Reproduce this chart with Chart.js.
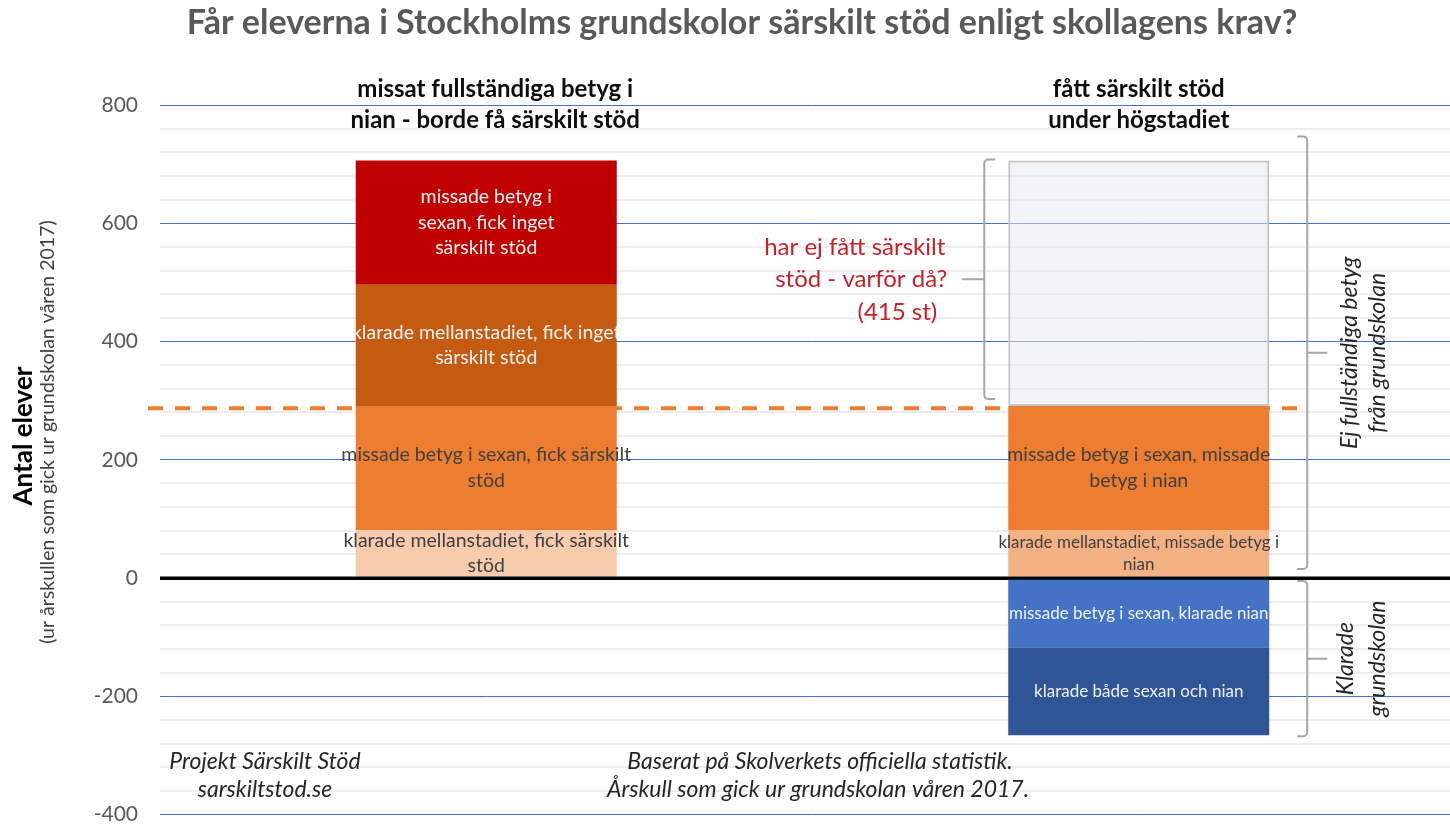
<!DOCTYPE html>
<html lang="sv">
<head>
<meta charset="utf-8">
<title>Särskilt stöd i Stockholms grundskolor</title>
<script src="https://cdn.jsdelivr.net/npm/chart.js@4.4.0/dist/chart.umd.min.js"></script>
<style>
    html, body { margin: 0; padding: 0; background: #ffffff; overflow: hidden; }
    #wrap { position: relative; width: 1465px; height: 825px; }
</style>
</head>
<body>
<div id="wrap"><canvas id="stodChart" width="1465" height="825"></canvas></div>
<script>
// Data
const categories = [
    ['missat fullständiga betyg i', 'nian - borde få särskilt stöd'],
    ['fått särskilt stöd', 'under högstadiet']
];
const yTicksMajor = [-400, -200, 0, 200, 400, 600, 800];

const klaradeMellanstadiet = [81, 81];
const missadeSexan = [210, 210];
const klaradeMellanIngetStod = [205, null];
const missadeSexanIngetStod = [210, null];
const ejFattStod = [null, 415];
const missadeSexanKlaradeNian = [null, -117];
const klaradeBada = [null, -149];
const gapLevel = 287;   // dashed reference line

const klaradeMellanstadietText = ['klarade mellanstadiet, fick särskilt\nstöd', 'klarade mellanstadiet, missade betyg i\nnian'];
const missadeSexanText = ['missade betyg i sexan, fick särskilt\nstöd', 'missade betyg i sexan, missade\nbetyg i nian'];
const klaradeMellanIngetStodText = ['klarade mellanstadiet, fick inget\nsärskilt stöd', null];
const missadeSexanIngetStodText = ['missade betyg i\nsexan, fick inget\nsärskilt stöd', null];
const missadeSexanKlaradeNianText = [null, 'missade betyg i sexan, klarade nian'];
const klaradeBadaText = [null, 'klarade både sexan och nian'];

const FONT = 'Lato, "Open Sans", sans-serif';

const datasets = [
    {
        label: 'klarade mellanstadiet',
        data: klaradeMellanstadiet,
        backgroundColor: ['#F8CBAD', '#F4B183'],
        texts: klaradeMellanstadietText,
        textColor: ['#404040', '#404040'],
        fontSize: [19.5, 17],
        lineHeight: [25, 22]
    },
    {
        label: 'missade betyg i sexan',
        data: missadeSexan,
        backgroundColor: '#ED7D31',
        texts: missadeSexanText,
        textColor: ['#404040', '#404040'],
        fontSize: [19.5, 19.5],
        lineHeight: [26, 26]
    },
    {
        label: 'klarade mellanstadiet, fick inget särskilt stöd',
        data: klaradeMellanIngetStod,
        backgroundColor: '#C55A11',
        texts: klaradeMellanIngetStodText,
        textColor: ['#F2F2F2', '#F2F2F2'],
        fontSize: [19.5, 19.5],
        lineHeight: [25, 25]
    },
    {
        label: 'missade betyg i sexan, fick inget särskilt stöd',
        data: missadeSexanIngetStod,
        backgroundColor: '#C00000',
        texts: missadeSexanIngetStodText,
        textColor: ['#F2F2F2', '#F2F2F2'],
        fontSize: [19.5, 19.5],
        lineHeight: [25.5, 25.5]
    },
    {
        label: 'har ej fått särskilt stöd',
        data: ejFattStod,
        backgroundColor: 'rgba(232, 233, 238, 0.5)',
        borderColor: '#C4C4C4',
        borderWidth: 2,
        borderSkipped: false,
        texts: [null, null],
        textColor: ['#404040', '#404040'],
        fontSize: [16, 16],
        lineHeight: [25, 25]
    },
    {
        label: 'missade betyg i sexan, klarade nian',
        data: missadeSexanKlaradeNian,
        backgroundColor: '#4472C4',
        texts: missadeSexanKlaradeNianText,
        textColor: ['#EEF2FA', '#EEF2FA'],
        fontSize: [17, 17],
        lineHeight: [22, 22]
    },
    {
        label: 'klarade både sexan och nian',
        data: klaradeBada,
        backgroundColor: '#2F5597',
        texts: klaradeBadaText,
        textColor: ['#EEF2FA', '#EEF2FA'],
        fontSize: [17, 17],
        lineHeight: [22, 22]
    }
];

/**
 * Text inside each bar segment
 */
const segmentTextPlugin = {
    id: 'segmentText',
    afterDatasetsDraw(chart) {
        const ctx = chart.ctx;
        const yScale = chart.scales.y;

        // zero line sits on top of the bars
        ctx.save();
        ctx.strokeStyle = '#000000';
        ctx.lineWidth = 3;
        ctx.beginPath();
        const y0 = yScale.getPixelForValue(0);
        ctx.moveTo(chart.chartArea.left, y0);
        ctx.lineTo(chart.chartArea.right, y0);
        ctx.stroke();
        ctx.restore();

        chart.data.datasets.forEach((ds, di) => {
            const meta = chart.getDatasetMeta(di);
            meta.data.forEach((bar, i) => {
                const text = ds.texts[i];
                if (!text || ds.data[i] == null) return;
                const lines = text.split('\n');
                const lh = ds.lineHeight[i];
                const cy = (bar.y + bar.base) / 2;
                ctx.save();
                ctx.font = ds.fontSize[i] + 'px ' + FONT;
                ctx.fillStyle = ds.textColor[i];
                ctx.textAlign = 'center';
                ctx.textBaseline = 'middle';
                lines.forEach((ln, k) => {
                    ctx.fillText(ln, bar.x, cy + (k - (lines.length - 1) / 2) * lh);
                });
                ctx.restore();
            });
        });
    }
};

/**
 * Draw a square bracket with a small tip in the middle
 */
function drawBrace(ctx, x, top, bottom, hookDx, tipDx) {
    const mid = (top + bottom) / 2;
    const r = 4;
    ctx.save();
    ctx.strokeStyle = '#A6A6A6';
    ctx.lineWidth = 2;
    ctx.beginPath();
    ctx.moveTo(x + hookDx, top);
    ctx.arcTo(x, top, x, top + r, r);
    ctx.lineTo(x, bottom - r);
    ctx.arcTo(x, bottom, x + hookDx, bottom, r);
    ctx.lineTo(x + hookDx, bottom);
    ctx.moveTo(x, mid);
    ctx.lineTo(x + tipDx, mid);
    ctx.stroke();
    ctx.restore();
    return mid;
}

function rotatedLines(ctx, lines, xs, cy, font, color) {
    lines.forEach((ln, k) => {
        ctx.save();
        ctx.translate(xs[k], cy);
        ctx.rotate(-Math.PI / 2);
        ctx.font = font;
        ctx.fillStyle = color;
        ctx.textAlign = 'center';
        ctx.textBaseline = 'middle';
        ctx.fillText(ln, 0, 0);
        ctx.restore();
    });
}

/**
 * Dashed reference line, drawn behind the bars
 */
const gapLinePlugin = {
    id: 'gapLine',
    beforeDatasetsDraw(chart) {
        const ctx = chart.ctx;
        const y = chart.scales.y.getPixelForValue(gapLevel);
        const bar2 = chart.getDatasetMeta(1).data[1];
        const xEnd = bar2.x + bar2.width / 2 + 36;
        ctx.save();
        ctx.strokeStyle = '#ED7D31';
        ctx.lineWidth = 4;
        ctx.setLineDash([15, 12]);
        ctx.beginPath();
        ctx.moveTo(chart.chartArea.left - 12, y);
        ctx.lineTo(xEnd, y);
        ctx.stroke();
        ctx.restore();
    }
};

/**
 * Titles, headers, brackets and notes
 */
const annotationPlugin = {
    id: 'annotations',
    afterDraw(chart) {
        const ctx = chart.ctx;
        const yScale = chart.scales.y;
        const xScale = chart.scales.x;

        // main title
        ctx.save();
        ctx.font = 'bold 34px ' + FONT;
        ctx.fillStyle = '#595959';
        ctx.textAlign = 'center';
        ctx.textBaseline = 'middle';
        ctx.fillText('Får eleverna i Stockholms grundskolor särskilt stöd enligt skollagens krav?', 742, 23);

        // category headers
        ctx.font = 'bold 24px ' + FONT;
        ctx.fillStyle = '#0D0D0D';
        categories.forEach((lines, i) => {
            const x = xScale.getPixelForValue(i) + (i === 0 ? 9 : 0);
            lines.forEach((ln, k) => ctx.fillText(ln, x, 89 + k * 31));
        });

        // footer notes
        ctx.font = 'italic 23px ' + FONT;
        ctx.fillStyle = '#262626';
        ctx.fillText('Projekt Särskilt Stöd', 265, 762);
        ctx.fillText('sarskiltstod.se', 265, 790);
        ctx.fillText('Baserat på Skolverkets officiella statistik.', 820, 762);
        ctx.fillText('Årskull som gick ur grundskolan våren 2017.', 818, 790);
        ctx.restore();

        // y axis title
        rotatedLines(ctx, ['Antal elever'], [24], 436, 'bold 26px ' + FONT, '#000000');
        rotatedLines(ctx, ['(ur årskullen som gick ur grundskolan våren 2017)'], [48], 432, '19.5px ' + FONT, '#404040');

        // brackets round the second bar
        const bar = chart.getDatasetMeta(4).data[1];
        const left = bar.x - bar.width / 2;
        const right = bar.x + bar.width / 2;
        const posTop = klaradeMellanstadiet[1] + missadeSexan[1] + ejFattStod[1];
        const grayBottom = klaradeMellanstadiet[1] + missadeSexan[1];
        const negBottom = missadeSexanKlaradeNian[1] + klaradeBada[1];
        const y0 = yScale.getPixelForValue(0);

        const braceL = left - 24;
        const midL = drawBrace(ctx, braceL, yScale.getPixelForValue(posTop) - 1,
            yScale.getPixelForValue(grayBottom) - 7, 11, -22);

        const braceR = right + 38;
        const midR = drawBrace(ctx, braceR, yScale.getPixelForValue(posTop) - 24, y0 - 9, -10, 20);
        const midN = drawBrace(ctx, braceR, y0 + 3, yScale.getPixelForValue(negBottom) + 1, -10, 20);

        // note next to the grey segment
        ctx.save();
        ctx.font = '24px ' + FONT;
        ctx.fillStyle = '#C42128';
        ctx.textAlign = 'right';
        ctx.textBaseline = 'middle';
        ctx.fillText('har ej fått särskilt', braceL - 39, midL - 32);
        ctx.fillText('stöd - varför då?', braceL - 37, midL);
        ctx.fillText('(415 st)', braceL - 47, midL + 33);
        ctx.restore();

        rotatedLines(ctx, ['Ej fullständiga betyg', 'från grundskolan'], [braceR + 42, braceR + 70], midR,
            'italic 23px ' + FONT, '#262626');
        rotatedLines(ctx, ['Klarade', 'grundskolan'], [braceR + 38, braceR + 70], midN,
            'italic 23px ' + FONT, '#262626');
    }
};

function gridColor(context) {
    const v = context.tick.value;
    if (v === 0) return '#000000';
    if (yTicksMajor.includes(v)) return '#4472C4';
    return '#EDEDED';
}

function gridWidth(context) {
    const v = context.tick.value;
    if (v === 0) return 3;
    if (yTicksMajor.includes(v)) return 1;
    return 2;
}

const chartConfig = {
    type: 'bar',
    data: {
        labels: categories,
        datasets: datasets
    },
    options: {
        responsive: false,
        animation: false,
        layout: {
            padding: { top: 105, bottom: 10, left: 0, right: 0 }
        },
        datasets: {
            bar: {
                barPercentage: 0.4,
                categoryPercentage: 1.0,
                borderWidth: 0
            }
        },
        plugins: {
            legend: { display: false },
            tooltip: { enabled: false },
            title: { display: false }
        },
        scales: {
            x: {
                stacked: true,
                display: false
            },
            y: {
                stacked: true,
                min: -400,
                max: 800,
                border: { display: false },
                grid: {
                    color: gridColor,
                    lineWidth: gridWidth,
                    drawTicks: true,
                    tickLength: 22,
                    tickColor: 'rgba(0, 0, 0, 0)'
                },
                ticks: {
                    stepSize: 40,
                    autoSkip: false,
                    padding: 0,
                    color: '#595959',
                    font: { family: FONT, size: 21, lineHeight: 1 },
                    callback: function(value) {
                        return yTicksMajor.includes(value) ? String(value) : '';
                    }
                },
                afterFit: function(scale) {
                    scale.width = 160;
                }
            }
        }
    },
    plugins: [gapLinePlugin, segmentTextPlugin, annotationPlugin]
};

let stodChart = null;

function initChart() {
    const canvas = document.getElementById('stodChart');
    if (!canvas) {
        console.warn('Chart canvas not found');
        return;
    }
    if (stodChart) {
        stodChart.destroy();
    }
    stodChart = new Chart(canvas, chartConfig);
}

initChart();
</script>
</body>
</html>
